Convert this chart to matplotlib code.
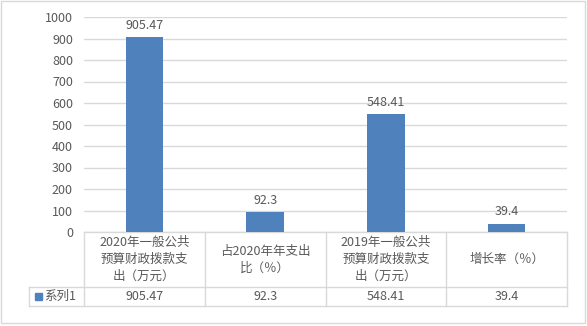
import matplotlib
matplotlib.use("Agg")
import matplotlib.pyplot as plt
from matplotlib.patches import Rectangle

plt.rcParams["font.family"] = ["Noto Sans CJK SC", "DejaVu Sans"]

categories = ["2020年一般公共\n预算财政拨款支\n出（万元）", "占2020年年支出\n比（％）",
              "2019年一般公共\n预算财政拨款支\n出（万元）", "增长率（％）"]
values = [905.47, 92.3, 548.41, 39.4]
value_labels = ["905.47", "92.3", "548.41", "39.4"]
series_name = "系列1"
yticks = list(range(0, 1001, 100))

BLUE = "#4f81bd"
GRID = "#d9d9d9"
TXT = "#595959"

fig = plt.figure(figsize=(5.87, 3.26), dpi=100)
ax = fig.add_axes([84 / 587, 1 - 232 / 326, 483 / 587, 215 / 326])
x = list(range(len(values)))
ax.bar(x, values, width=0.31, color=BLUE, zorder=3)
for xi, v, lab in zip(x, values, value_labels):
    ax.annotate(lab, (xi, v), xytext=(0, 4), textcoords="offset points",
                ha="center", va="bottom", fontsize=9, color=TXT)

ax.set_xlim(-0.5, len(values) - 0.5)
ax.set_ylim(0, 1000)
ax.set_yticks(yticks)
ax.set_yticklabels([str(t) for t in yticks], fontsize=9, color=TXT)
ax.tick_params(axis="y", length=0, pad=8)
ax.set_xticks([])
ax.grid(axis="y", color=GRID, lw=1, zorder=0)
for s in ax.spines.values():
    s.set_visible(False)

# data table under the plot (axes coords)
ph = 215.0
pw = 483.0
y_cat = -55 / ph
y_ser = -74 / ph
x_leg = -55 / pw
kw = dict(transform=ax.transAxes, clip_on=False, color=GRID, lw=1)
ax.plot([0, 1], [0, 0], **kw)
ax.plot([x_leg, 1], [y_cat, y_cat], **kw)
ax.plot([x_leg, 1], [y_ser, y_ser], **kw)
ax.plot([x_leg, x_leg], [y_cat, y_ser], **kw)
n = len(values)
for i in range(n + 1):
    ax.plot([i / n, i / n], [0, y_ser], **kw)
for i, (cat, lab) in enumerate(zip(categories, value_labels)):
    xc = (i + 0.5) / n
    ax.text(xc, y_cat / 2, cat, transform=ax.transAxes, ha="center", va="center",
            fontsize=9, color=TXT, linespacing=1.4)
    ax.text(xc, (y_cat + y_ser) / 2, lab, transform=ax.transAxes, ha="center",
            va="center", fontsize=9, color=TXT)
ax.add_patch(Rectangle((x_leg + 6 / pw, (y_cat + y_ser) / 2 - 3.5 / ph), 7 / pw, 7 / ph,
                       transform=ax.transAxes, clip_on=False, color=BLUE))
ax.text(x_leg + 15 / pw, (y_cat + y_ser) / 2, series_name, transform=ax.transAxes,
        ha="left", va="center", fontsize=9, color=TXT)

fig.patches.append(Rectangle((1 / 587, 3 / 326), 584 / 587, 322 / 326, transform=fig.transFigure,
                             fill=False, edgecolor=GRID, lw=1))
fig.savefig("out.png", dpi=100)
